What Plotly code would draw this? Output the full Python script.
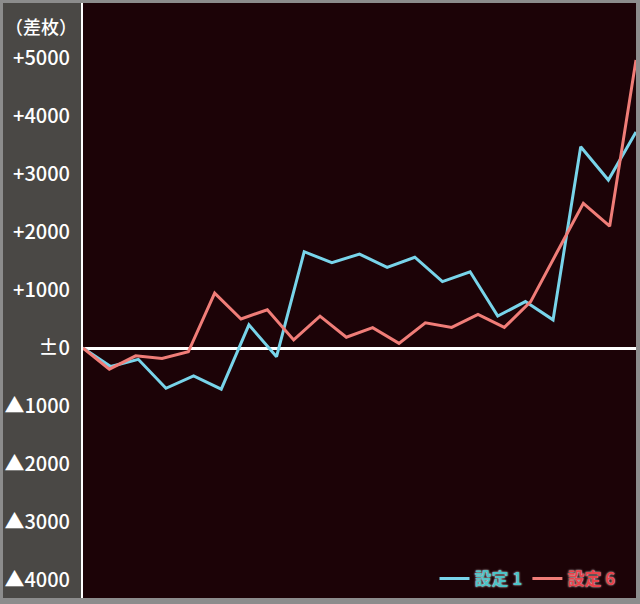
import plotly.graph_objects as go

# ---- data ----
tick_vals = [5000, 4000, 3000, 2000, 1000, 0, -1000, -2000, -3000, -4000]
tick_text = ["+5000", "+4000", "+3000", "+2000", "+1000", "±0",
             "▲1000", "▲2000", "▲3000", "▲4000"]
unit_label = "（差枚）"

s1_name = "設定 1"
s1_values = [0, -320, -195, -695, -480, -710, 400, -150, 1660, 1470,
             1620, 1390, 1565, 1145, 1315, 550, 800, 485, 3470, 2895, 3725]

s6_name = "設定 6"
s6_values = [0, -365, -135, -180, -65, 945, 500, 660, 140, 550,
             185, 350, 80, 435, 355, 580, 355, 800, 1650, 2495, 2100, 4965]

s1_x = list(range(len(s1_values)))
s6_x = list(range(len(s6_values)))

# ---- style ----
W, H = 640, 604
ML, MR, MT, MB = 83, 4, 3, 6
PW = W - ML - MR
PH = H - MT - MB

BORDER = "#8c8c8c"
PANEL = "#4a4845"
PLOT_BG = "#1c0307"
C1 = "#78d4ea"
C6 = "#f07d78"
FONT = "Noto Sans CJK JP"

fig = go.Figure()
fig.add_trace(go.Scatter(
    x=s1_x, y=s1_values, mode="lines", xaxis="x", yaxis="y",
    line=dict(color=C1, width=3),
    name="<span style='color:#4cc4c8'>" + s1_name + "</span>",
))
fig.add_trace(go.Scatter(
    x=s6_x, y=s6_values, mode="lines", xaxis="x2", yaxis="y",
    line=dict(color=C6, width=3),
    name="<span style='color:#e8434a'>" + s6_name + "</span>",
))

fig.update_layout(
    width=W, height=H,
    margin=dict(l=ML, r=MR, t=MT, b=MB, pad=0, autoexpand=False),
    paper_bgcolor=BORDER,
    plot_bgcolor=PLOT_BG,
    font=dict(family=FONT, color="white"),
    xaxis=dict(range=[0, len(s1_values) - 1], showgrid=False, zeroline=False,
               showticklabels=False, showline=False, fixedrange=True,
               automargin=False),
    xaxis2=dict(range=[0, len(s6_values) - 1], overlaying="x", showgrid=False,
                zeroline=False, showticklabels=False, showline=False),
    yaxis=dict(range=[-4310, 5948], tickvals=tick_vals, ticktext=tick_text,
               showgrid=False, zeroline=True, zerolinecolor="white",
               zerolinewidth=3, showline=True, linecolor="white", linewidth=2,
               ticks="", ticklabelstandoff=7, automargin=False,
               tickfont=dict(family=FONT, size=20, color="white", weight=500)),
    showlegend=True,
    legend=dict(orientation="h", x=0.972, xanchor="right", y=0.032,
                yanchor="middle", bgcolor="rgba(0,0,0,0)",
                font=dict(family=FONT, size=17, weight="bold",
                          shadow="0px 0px 2px #ffffff"),
                itemwidth=30, tracegroupgap=0),
    shapes=[dict(type="rect", xref="paper", yref="paper",
                 x0=(3 - ML) / PW, x1=0, y0=0, y1=1,
                 fillcolor=PANEL, line=dict(width=0), layer="below")],
    annotations=[dict(text=unit_label, xref="paper", yref="paper",
                      x=(79 - ML) / PW, xanchor="right",
                      y=(H - MB - 26) / PH, yanchor="middle", showarrow=False,
                      font=dict(family=FONT, size=18, color="white", weight=500))],
)

fig.write_html("out.html",
               config={"displayModeBar": False},
               post_script="document.body.style.margin='0';"
                           "document.body.style.overflow='hidden';")
